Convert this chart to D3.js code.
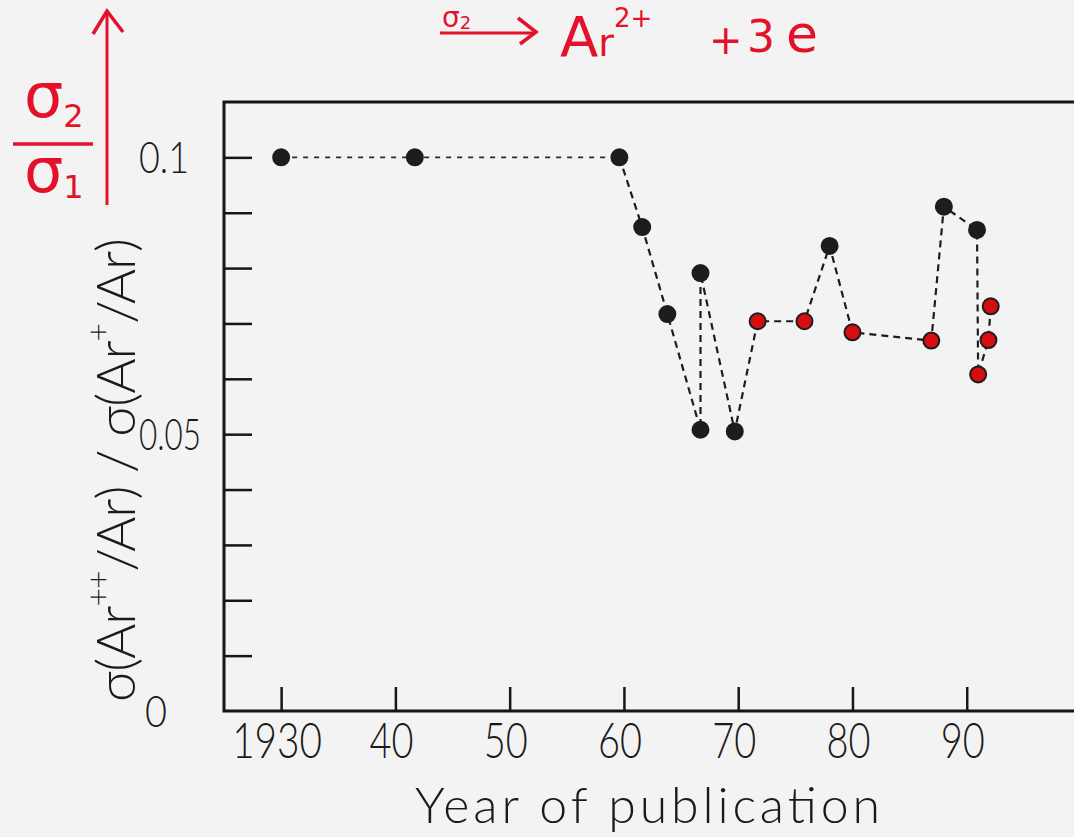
<!DOCTYPE html>
<html>
<head>
<meta charset="utf-8">
<script src="https://cdn.jsdelivr.net/npm/d3@7"></script>
<style>
  html, body { margin: 0; padding: 0; background: #f3f3f3; }
  svg { display: block; }
  .lbl { font-family: Lato, "Open Sans", "DejaVu Sans", sans-serif; font-weight: 300; fill: #1a1a1a; }
  .hand { font-family: "DejaVu Sans", sans-serif; fill: #e3122a; }
</style>
</head>
<body>
<div id="chart"></div>
<script>

// Ratio of double to single ionisation cross sections of Ar, by year of publication
// (points in drawing order; the dashed line joins them in this order)

const years  = [1930, 1941.7, 1959.6, 1961.6, 1963.8, 1966.7, 1966.7, 1969.7, 1971.7, 1975.8,
                1978.0, 1980.0, 1986.9, 1988.0, 1990.9, 1991.0, 1991.9, 1992.1];
const ratios = [0.100, 0.100, 0.100, 0.0874, 0.0717, 0.0508, 0.0791, 0.0505, 0.0704, 0.0704,
                0.0840, 0.0684, 0.0669, 0.0911, 0.0869, 0.0608, 0.0670, 0.0731];
const kinds  = ["old", "old", "old", "old", "old", "old", "old", "old", "new", "new",
                "old", "new", "new", "old", "old", "new", "new", "new"];

const xTicks = [1930, 1940, 1950, 1960, 1970, 1980, 1990];
const yTicks = [0.01, 0.02, 0.03, 0.04, 0.05, 0.06, 0.07, 0.08, 0.09, 0.1];
const yLabels = [0, 0.05, 0.1];


const width = 1074;
const height = 837;

const svg = d3.select("#chart").append("svg")
    .attr("width", width)
    .attr("height", height);

const x = d3.scaleLinear().domain([1925, 2000]).range([224, 1081]);
const y = d3.scaleLinear().domain([0, 0.11]).range([711, 102]);

const colour = d3.scaleOrdinal().domain(["old", "new"]).range(["#1d1d1d", "#d80d12"]);

const points = years.map((yr, i) => ({ year: yr, ratio: ratios[i], kind: kinds[i] }));

// Frame: left, top and bottom lines (right side is off the page)
svg.append("path")
    .attr("d", "M" + x(2000) + "," + y(0.11) + "H" + x(1925) + "V" + y(0) + "H" + x(2000))
    .attr("fill", "none")
    .attr("stroke", "#161616")
    .attr("stroke-width", 3);

// Y ticks point inwards, labels only at 0, 0.05, 0.1
const yAxis = svg.append("g")
    .attr("transform", "translate(" + x(1925) + ",0)")
    .call(d3.axisRight(y).tickValues(yTicks).tickSize(28).tickFormat(""));
yAxis.select(".domain").remove();
yAxis.selectAll(".tick line").attr("stroke", "#161616").attr("stroke-width", 2.5);

const yFmt = (d) => d === 0 ? "0" : d === 0.1 ? "0.1" : "0.05";
svg.append("g").selectAll("text")
    .data(yLabels)
    .enter().append("text")
    .attr("class", "lbl")
    .attr("x", (d) => d === 0 ? 145 : 139)
    .attr("y", (d) => y(d) + 16)
    .attr("font-size", 44)
    .attr("textLength", (d) => d === 0 ? 22 : d === 0.1 ? 50 : 62)
    .attr("lengthAdjust", "spacingAndGlyphs")
    .text(yFmt);

// X ticks point inwards (upwards), labels below the axis
const xAxis = svg.append("g")
    .attr("transform", "translate(0," + y(0) + ")")
    .call(d3.axisTop(x).tickValues(xTicks).tickSize(24).tickFormat(""));
xAxis.select(".domain").remove();
xAxis.selectAll(".tick line").attr("stroke", "#161616").attr("stroke-width", 2.5);

svg.append("g").selectAll("text")
    .data(xTicks)
    .enter().append("text")
    .attr("class", "lbl")
    .attr("x", (d) => x(d) - (d === 1930 ? 49 : 26))
    .attr("y", 758)
    .attr("font-size", 50)
    .attr("textLength", (d) => d === 1930 ? 90 : 44)
    .attr("lengthAdjust", "spacingAndGlyphs")
    .text((d) => d === 1930 ? "1930" : String(d % 100));

// Axis titles
svg.append("text")
    .attr("class", "lbl")
    .attr("x", 415)
    .attr("y", 823)
    .attr("font-size", 50)
    .attr("textLength", 465)
    .attr("lengthAdjust", "spacing")
    .text("Year of publication");

const yTitle = svg.append("text")
    .attr("class", "lbl")
    .attr("transform", "translate(135,702) rotate(-90)")
    .attr("font-size", 54)
    .attr("textLength", 464)
    .attr("lengthAdjust", "spacing");
yTitle.append("tspan").text("σ(Ar");
yTitle.append("tspan").attr("font-size", 32).attr("dy", -26).text("++");
yTitle.append("tspan").attr("dy", 26).text("/Ar) / σ(Ar");
yTitle.append("tspan").attr("font-size", 32).attr("dy", -26).text("+");
yTitle.append("tspan").attr("dy", 26).text("/Ar)");

// Dashed connecting line: the first run is finer than the rest
const line = d3.line().x((d) => x(d.year)).y((d) => y(d.ratio));

svg.append("path")
    .datum(points.slice(0, 3))
    .attr("d", line)
    .attr("fill", "none")
    .attr("stroke", "#2a2a2a")
    .attr("stroke-width", 1.8)
    .attr("stroke-dasharray", "5,6");

svg.append("path")
    .datum(points.slice(2))
    .attr("d", line)
    .attr("fill", "none")
    .attr("stroke", "#1d1d1d")
    .attr("stroke-width", 2.2)
    .attr("stroke-dasharray", "7,5");

svg.append("g").selectAll("circle")
    .data(points)
    .enter().append("circle")
    .attr("cx", (d) => x(d.year))
    .attr("cy", (d) => y(d.ratio))
    .attr("r", 8)
    .attr("fill", (d) => colour(d.kind))
    .attr("stroke", "#1d1d1d")
    .attr("stroke-width", 2);

// Red hand-written notes
const red = "#e3122a";

svg.append("line")
    .attr("x1", 107).attr("y1", 205).attr("x2", 107).attr("y2", 11)
    .attr("stroke", red).attr("stroke-width", 3);
svg.append("path")
    .attr("d", "M93,34L107,11L123,32")
    .attr("fill", "none").attr("stroke", red).attr("stroke-width", 3.5);

const num = svg.append("text").attr("class", "hand").attr("x", 24).attr("y", 117).attr("font-size", 62);
num.append("tspan").text("σ");
num.append("tspan").attr("font-size", 32).attr("dy", 10).text("2");
svg.append("line")
    .attr("x1", 13).attr("y1", 144).attr("x2", 93).attr("y2", 144)
    .attr("stroke", red).attr("stroke-width", 3.5);
const den = svg.append("text").attr("class", "hand").attr("x", 24).attr("y", 192).attr("font-size", 62);
den.append("tspan").text("σ");
den.append("tspan").attr("font-size", 32).attr("dy", 6).text("1");

// reaction at the top
const over = svg.append("text").attr("class", "hand").attr("x", 442).attr("y", 27).attr("font-size", 28);
over.append("tspan").text("σ");
over.append("tspan").attr("font-size", 18).attr("dy", 2).text("2");
svg.append("line")
    .attr("x1", 440).attr("y1", 33).attr("x2", 535).attr("y2", 33)
    .attr("stroke", red).attr("stroke-width", 3);
svg.append("path")
    .attr("d", "M518,18L536,32L520,44")
    .attr("fill", "none").attr("stroke", red).attr("stroke-width", 3.5);

const ion = svg.append("text").attr("class", "hand").attr("x", 560).attr("y", 56).attr("font-size", 56);
ion.append("tspan").text("A");
ion.append("tspan").attr("font-size", 38).text("r");
ion.append("tspan").attr("font-size", 26).attr("dy", -29).text("2+");

svg.append("text").attr("class", "hand").attr("x", 709).attr("y", 54).attr("font-size", 40).text("+");
svg.append("text").attr("class", "hand").attr("x", 747).attr("y", 52).attr("font-size", 44).text("3");
svg.append("text").attr("class", "hand").attr("x", 786).attr("y", 52).attr("font-size", 52).text("e");

</script>
</body>
</html>
